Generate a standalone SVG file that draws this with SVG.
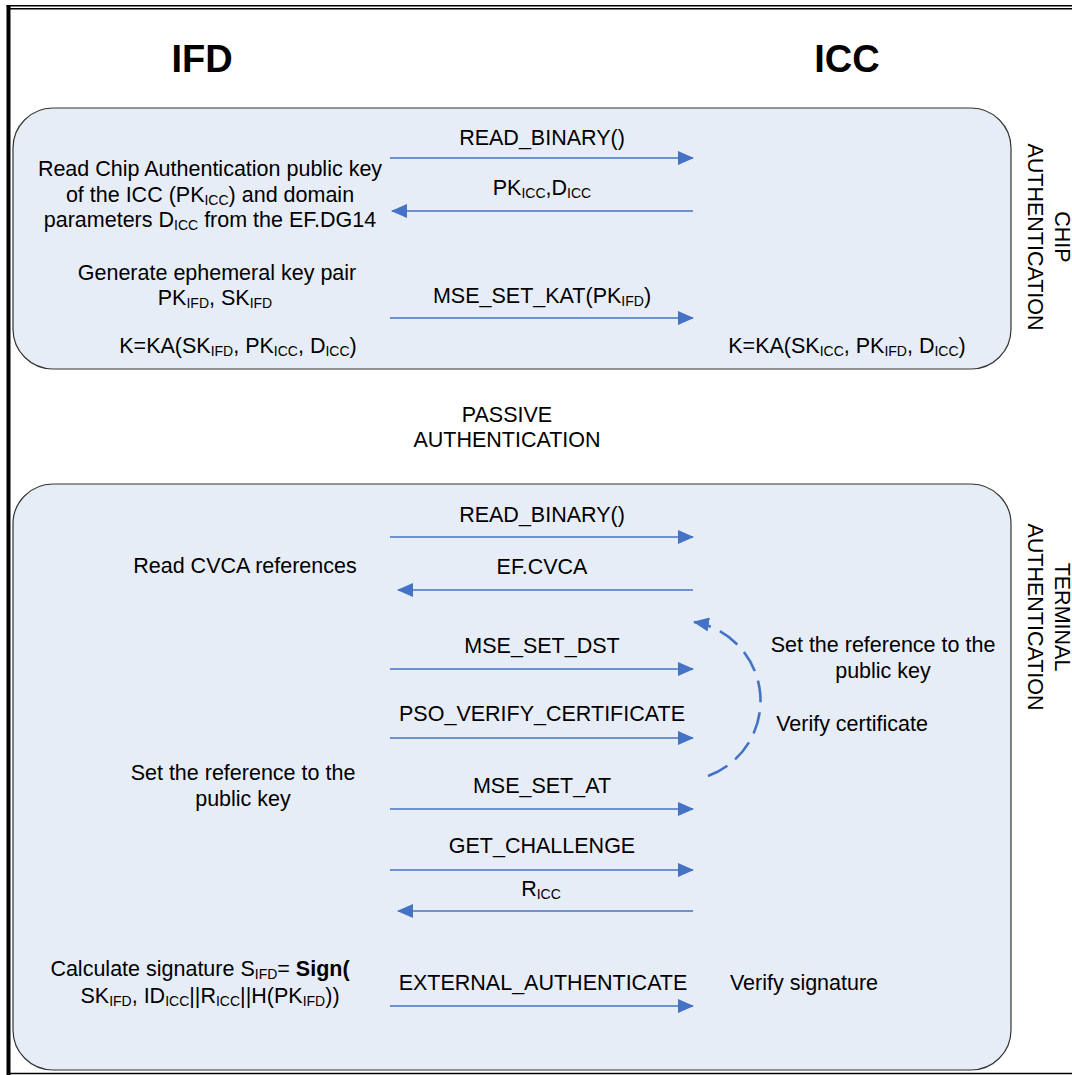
<svg xmlns="http://www.w3.org/2000/svg" width="1072" height="1075" viewBox="0 0 1072 1075">
<style>
  text { font-family: "Liberation Sans", Arial, sans-serif; font-size: 21.5px; fill: #000; }
  .c { text-anchor: middle; }
  .hdr { font-size: 38px; font-weight: bold; }
  .sub { font-size: 14px; }
  .box { fill: #E7EDF7; stroke: #333333; stroke-width: 1.2; }
  .msg { fill: none; stroke: #4472C4; stroke-width: 1.4; marker-end: url(#ah); }
  .dash { fill: none; stroke: #4472C4; stroke-width: 2.6; stroke-dasharray: 22 10; marker-end: url(#ah2); }
  .frame { stroke: #000; fill: none; }
</style>
<defs>
  <marker id="ah" viewBox="0 0 16 14" refX="15" refY="7" markerWidth="16" markerHeight="14" markerUnits="userSpaceOnUse" orient="auto">
    <path d="M0,0 L16,7 L0,14 Z" fill="#4472C4"/>
  </marker>
  <marker id="ah2" viewBox="0 0 16 14" refX="15" refY="7" markerWidth="16" markerHeight="14" markerUnits="userSpaceOnUse" orient="auto">
    <path d="M0,0 L16,7 L0,14 Z" fill="#4472C4"/>
  </marker>
</defs>
<rect x="0" y="0" width="1072" height="1075" fill="#fff"/>
<g id="frame">
  <line class="frame" x1="6.5" y1="5.8" x2="1072" y2="5.8" stroke-width="1.6"/>
  <line class="frame" x1="10" y1="8.8" x2="1072" y2="8.8" stroke-width="1.6"/>
  <line class="frame" x1="8.5" y1="5" x2="8.5" y2="1075" stroke-width="4"/>
  <line class="frame" x1="9" y1="1073.5" x2="1072" y2="1073.5" stroke-width="1.4"/>
</g>
<g id="chip-box"><rect class="box" x="13" y="108" width="998" height="261" rx="40" ry="40"/></g>
<g id="terminal-box"><rect class="box" x="13" y="484" width="998" height="586" rx="40" ry="40"/></g>

<g id="hdr-ifd"><text class="c hdr" x="202" y="72">IFD</text></g>
<g id="hdr-icc"><text class="c hdr" x="847" y="72">ICC</text></g>

<g id="chip-label"><text class="c" transform="translate(1055,237) rotate(90)">CHIP</text><text class="c" transform="translate(1028,237) rotate(90)">AUTHENTICATION</text></g>
<g id="terminal-label"><text class="c" transform="translate(1055,617) rotate(90)">TERMINAL</text><text class="c" transform="translate(1028,617) rotate(90)">AUTHENTICATION</text></g>

<g id="passive"><text class="c" x="507" y="422">PASSIVE</text><text class="c" x="507" y="447">AUTHENTICATION</text></g>

<g id="ifd-read-key">
  <text class="c" x="210" y="176">Read Chip Authentication public key</text>
  <text class="c" x="210" y="202">of the ICC (PK<tspan class="sub" dy="3">ICC</tspan><tspan dy="-3">) and domain</tspan></text>
  <text class="c" x="210" y="227">parameters D<tspan class="sub" dy="3">ICC</tspan><tspan dy="-3"> from the EF.DG14</tspan></text>
</g>
<g id="ifd-gen">
  <text class="c" x="217" y="280">Generate ephemeral key pair</text>
  <text class="c" x="215" y="305">PK<tspan class="sub" dy="3">IFD</tspan><tspan dy="-3">, SK</tspan><tspan class="sub" dy="3">IFD</tspan></text>
</g>
<g id="ifd-k"><text class="c" x="238" y="353">K=KA(SK<tspan class="sub" dy="3">IFD</tspan><tspan dy="-3">, PK</tspan><tspan class="sub" dy="3">ICC</tspan><tspan dy="-3">, D</tspan><tspan class="sub" dy="3">ICC</tspan><tspan dy="-3">)</tspan></text></g>
<g id="icc-k"><text class="c" x="847" y="353">K=KA(SK<tspan class="sub" dy="3">ICC</tspan><tspan dy="-3">, PK</tspan><tspan class="sub" dy="3">IFD</tspan><tspan dy="-3">, D</tspan><tspan class="sub" dy="3">ICC</tspan><tspan dy="-3">)</tspan></text></g>

<g id="ifd-cvca"><text class="c" x="245" y="573">Read CVCA references</text></g>
<g id="icc-setref"><text class="c" x="883" y="652">Set the reference to the</text><text class="c" x="883" y="678">public key</text></g>
<g id="icc-verify-cert"><text class="c" x="852" y="731">Verify certificate</text></g>
<g id="ifd-setref"><text class="c" x="243" y="780">Set the reference to the</text><text class="c" x="243" y="806">public key</text></g>
<g id="ifd-sign">
  <text class="c" x="200" y="976">Calculate signature S<tspan class="sub" dy="3">IFD</tspan><tspan dy="-3">= </tspan><tspan font-weight="bold">Sign(</tspan></text>
  <text class="c" x="210" y="1003">SK<tspan class="sub" dy="3">IFD</tspan><tspan dy="-3">, ID</tspan><tspan class="sub" dy="3">ICC</tspan><tspan dy="-3">||R</tspan><tspan class="sub" dy="3">ICC</tspan><tspan dy="-3">||H(PK</tspan><tspan class="sub" dy="3">IFD</tspan><tspan dy="-3">))</tspan></text>
</g>
<g id="icc-verify-sig"><text class="c" x="804" y="990">Verify signature</text></g>

<g id="connectors">
  <path class="msg" d="M390,158 H693"/>
  <path class="msg" d="M693,211 H392"/>
  <path class="msg" d="M390,318 H693"/>
  <path class="msg" d="M390,537 H693"/>
  <path class="msg" d="M693,590 H398"/>
  <path class="msg" d="M390,669 H693"/>
  <path class="msg" d="M390,738 H693"/>
  <path class="msg" d="M390,809 H693"/>
  <path class="msg" d="M390,870 H693"/>
  <path class="msg" d="M693,911 H398"/>
  <path class="msg" d="M390,1006 H693"/>
  <path class="dash" d="M708,776 A80,80 0 0 0 694,622"/>
</g>
<g id="msg-labels">
  <text class="c" x="542" y="145">READ_BINARY()</text>
  <text class="c" x="542" y="195">PK<tspan class="sub" dy="3">ICC</tspan><tspan dy="-3">,D</tspan><tspan class="sub" dy="3">ICC</tspan></text>
  <text class="c" x="542" y="303">MSE_SET_KAT(PK<tspan class="sub" dy="3">IFD</tspan><tspan dy="-3">)</tspan></text>
  <text class="c" x="542" y="522">READ_BINARY()</text>
  <text class="c" x="542" y="574">EF.CVCA</text>
  <text class="c" x="542" y="653">MSE_SET_DST</text>
  <text class="c" x="542" y="721">PSO_VERIFY_CERTIFICATE</text>
  <text class="c" x="542" y="793">MSE_SET_AT</text>
  <text class="c" x="542" y="853">GET_CHALLENGE</text>
  <text class="c" x="541" y="896">R<tspan class="sub" dy="3">ICC</tspan></text>
  <text class="c" x="543" y="990">EXTERNAL_AUTHENTICATE</text>
</g>
</svg>
